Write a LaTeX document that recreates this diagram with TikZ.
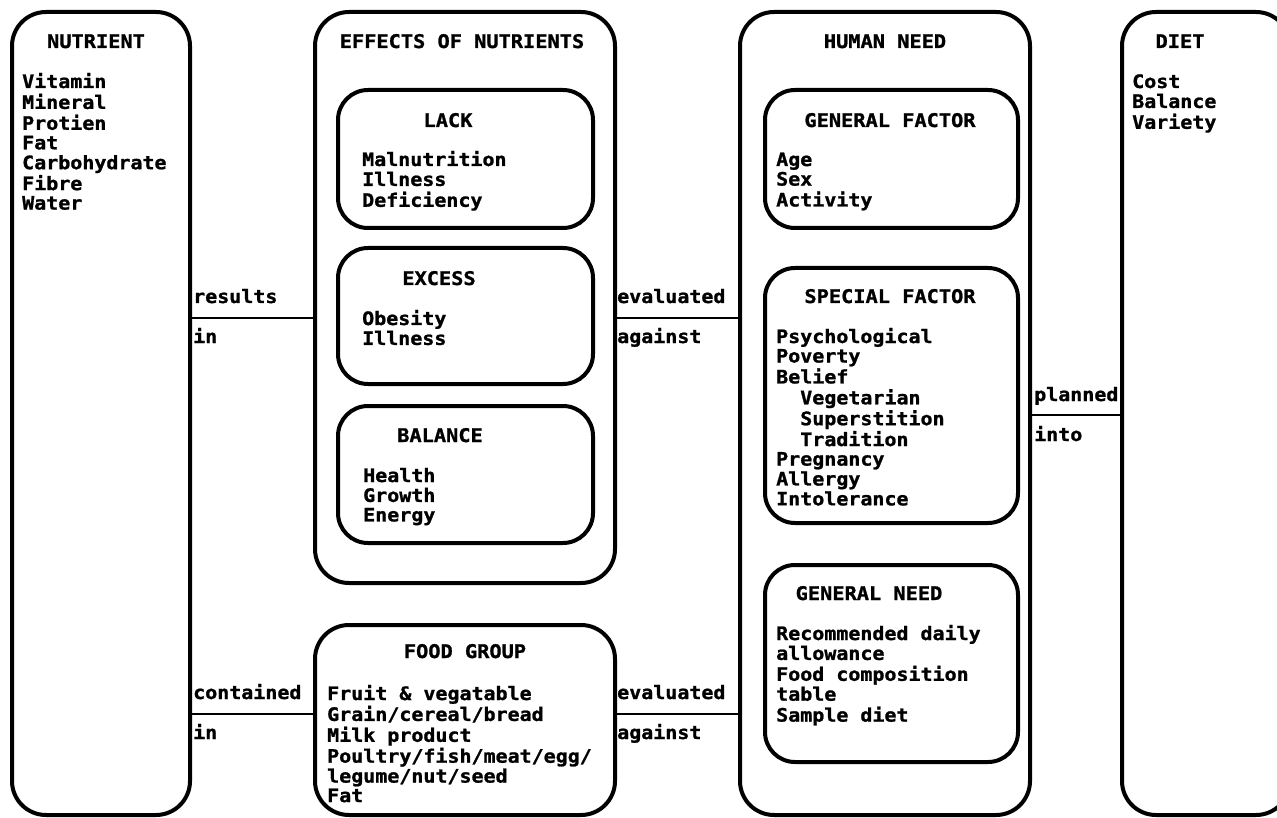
\documentclass[tikz,border=0pt]{standalone}
\usepackage{fontspec}
\setmainfont{DejaVu Sans Mono}[BoldFeatures={FakeStretch=1.08,FakeBold=1.2}]
\newcommand\lst[1]{\begin{tabular}[t]{@{}l@{}}#1\end{tabular}}
\begin{document}
\begin{tikzpicture}[x=1pt,y=-1pt,
  rbox/.style={draw, line width=4pt, rounded corners=34pt, inner sep=0pt},
  ibox/.style={draw, line width=4pt, rounded corners=30pt, inner sep=0pt},
  ttl/.style={inner sep=0pt, anchor=base, font=\fontsize{18.8}{19.5}\selectfont\bfseries},
  itm/.style={inner sep=0pt, anchor=base west, font=\fontsize{18.5}{19.5}\selectfont\bfseries},
  conn/.style={line width=2.2pt}]
\useasboundingbox (0,0) rectangle (1277,818);
% boxes
\node[rbox, minimum width=178pt, minimum height=803pt] (nut) at (101,413.5) {};
\node[rbox, minimum width=300pt, minimum height=571pt] (eff) at (465,297.5) {};
\node[ibox, minimum width=255pt, minimum height=138pt] (lack) at (465.5,159) {};
\node[ibox, minimum width=255pt, minimum height=136pt] (exc) at (465.5,316) {};
\node[ibox, minimum width=255pt, minimum height=137pt] (bal) at (465.5,474.5) {};
\node[rbox, minimum width=300pt, minimum height=190pt] (food) at (465,720) {};
\node[rbox, minimum width=290pt, minimum height=803pt] (hum) at (885,413.5) {};
\node[ibox, minimum width=253pt, minimum height=138pt] (gf) at (891.5,159) {};
\node[ibox, minimum width=253pt, minimum height=255pt] (sf) at (891.5,395.5) {};
\node[ibox, minimum width=253pt, minimum height=197pt] (gn) at (891.5,663.5) {};
\node[rbox, minimum width=168pt, minimum height=803pt] (diet) at (1206,413.5) {};
% titles
\node[ttl] (nutt) at (96,48) {NUTRIENT};
\node[ttl] (efft) at (462,48) {EFFECTS OF NUTRIENTS};
\node[ttl] (lackt) at (448,127) {LACK};
\node[ttl] (exct) at (439,285) {EXCESS};
\node[ttl] (balt) at (440,442) {BALANCE};
\node[ttl] (foodt) at (465,658) {FOOD GROUP};
\node[ttl] (humt) at (885,48) {HUMAN NEED};
\node[ttl] (gft) at (890,127) {GENERAL FACTOR};
\node[ttl] (sft) at (890,303) {SPECIAL FACTOR};
\node[ttl] (gnt) at (869,600) {GENERAL NEED};
\node[ttl] (diett) at (1180,48) {DIET};
% item lists
\node[itm] (nuti) at (22,88) {\lst{Vitamin\\Mineral\\Protien\\Fat\\Carbohydrate\\Fibre\\Water}};
\node[itm] (lacki) at (362,166) {\lst{Malnutrition\\Illness\\Deficiency}};
\node[itm] (exci) at (362,325) {\lst{Obesity\\Illness}};
\node[itm] (bali) at (363,482) {\lst{Health\\Growth\\Energy}};
\node[itm] (foodi) at (327,700) {\lst{Fruit \& vegatable\\Grain/cereal/bread\\Milk product\\Poultry/fish/meat/egg/\\legume/nut/seed\\Fat}};
\node[itm] (gfi) at (776,166) {\lst{Age\\Sex\\Activity}};
\node[itm] (sfi) at (776,343) {\lst{Psychological\\Poverty\\Belief\\\phantom{xx}Vegetarian\\\phantom{xx}Superstition\\\phantom{xx}Tradition\\Pregnancy\\Allergy\\Intolerance}};
\node[itm] (gni) at (776,640) {\lst{Recommended daily\\allowance\\Food composition\\table\\Sample diet}};
\node[itm] (dieti) at (1132,88) {\lst{Cost\\Balance\\Variety}};
% connectors
\coordinate (y1) at (0,318);
\coordinate (y2) at (0,714);
\coordinate (y3) at (0,415);
\draw[conn] (nut.east |- y1) -- (eff.west |- y1);
\draw[conn] (eff.east |- y1) -- (hum.west |- y1);
\draw[conn] (nut.east |- y2) -- (food.west |- y2);
\draw[conn] (food.east |- y2) -- (hum.west |- y2);
\draw[conn] (hum.east |- y3) -- (diet.west |- y3);
% connector labels
\node[itm] (l1a) at (193,303) {results};
\node[itm] (l1b) at (193,343) {in};
\node[itm] (l2a) at (617,303) {evaluated};
\node[itm] (l2b) at (617,343) {against};
\node[itm] (l3a) at (193,699) {contained};
\node[itm] (l3b) at (193,739) {in};
\node[itm] (l4a) at (617,699) {evaluated};
\node[itm] (l4b) at (617,739) {against};
\node[itm] (l5a) at (1034,401) {planned};
\node[itm] (l5b) at (1034,441) {into};
\end{tikzpicture}
\end{document}
